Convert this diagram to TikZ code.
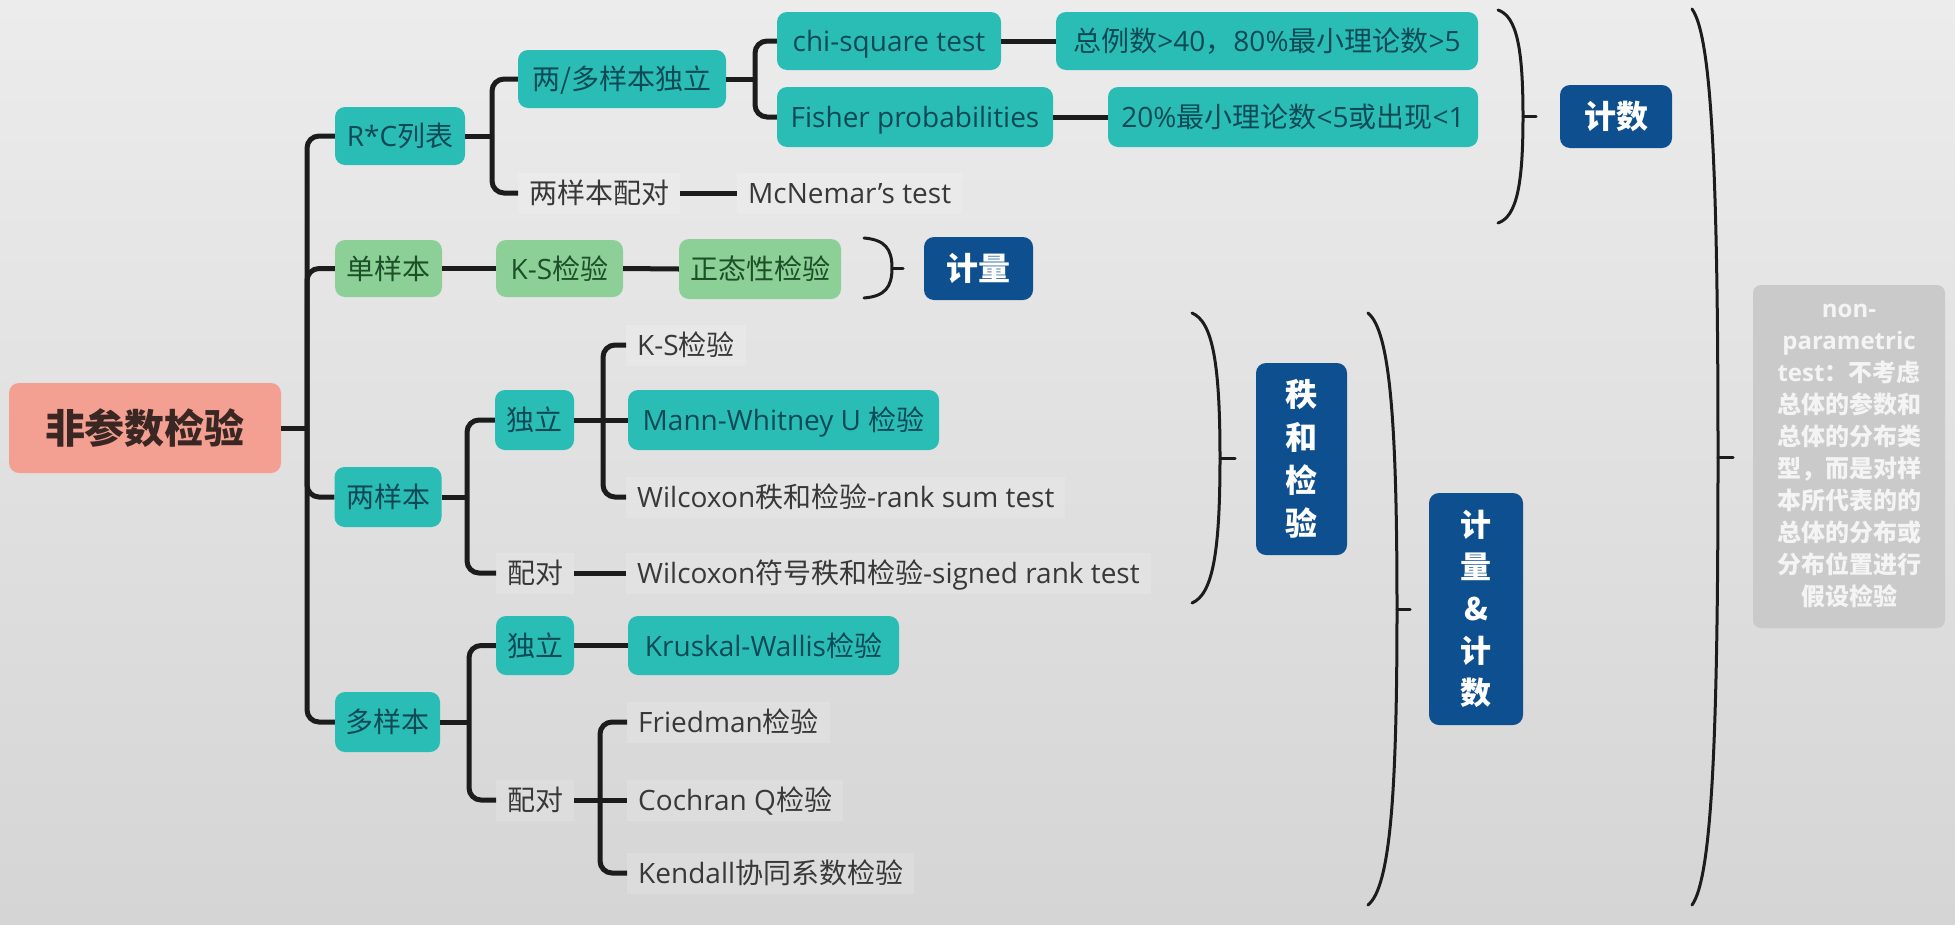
\documentclass[tikz,border=0pt]{standalone}
\usepackage{fontspec}
\setmainfont{Open Sans}
\newfontfamily\cjk{Noto Sans CJK SC}
\newcommand\zhc[1]{{\cjk #1}}
\definecolor{bgtop}{HTML}{ECECEC}
\definecolor{bgmid}{HTML}{F7F7F7}
\definecolor{bgbot}{HTML}{D5D5D5}
\definecolor{tealc}{HTML}{2ABDB6}
\definecolor{tealtxt}{HTML}{0E4A55}
\definecolor{greenc}{HTML}{8CCF97}
\definecolor{greentxt}{HTML}{1C5128}
\definecolor{bluec}{HTML}{0E4F8F}
\definecolor{salmonc}{HTML}{F3A092}
\definecolor{salmontxt}{HTML}{3A2723}
\definecolor{linec}{HTML}{1C1C1C}
\definecolor{plaintxt}{HTML}{383838}
\definecolor{notec}{HTML}{CACACA}
\definecolor{notetxt}{HTML}{F4F4F4}
\tikzset{
  nbox/.style={rounded corners=10pt, inner sep=0pt, align=center, font=\fontsize{28}{34}\selectfont},
  oneline/.style={text height=24pt, text depth=3pt},
  sz/.style 2 args={minimum width=#1pt, minimum height=#2pt},
  tealbox/.style={nbox, oneline, fill=tealc, text=tealtxt},
  greenbox/.style={nbox, oneline, fill=greenc, text=greentxt},
  bluebox/.style={nbox, fill=bluec, text=white, font=\fontsize{32}{43}\selectfont\bfseries},
  salmonbox/.style={nbox, text height=34pt, text depth=4pt, fill=salmonc, text=salmontxt, font=\fontsize{40}{48}\selectfont\bfseries},
  plain/.style={anchor=west, oneline, inner xsep=11pt, inner ysep=7pt, fill=white, fill opacity=0.15, text opacity=1, text=plaintxt, font=\fontsize{28}{34}\selectfont},
  notebox/.style={nbox, rounded corners=8pt, fill=notec, text=notetxt, font=\fontsize{24}{32}\selectfont\bfseries},
  conn/.style={line width=5pt, draw=linec, rounded corners=12pt},
  paren/.style={line width=3pt, draw=linec, line cap=round},
}
% #1 x0, #2 ytop, #3 ybot, #4 depth, #5 tick length
\newcommand\parenshape[5]{%
  \draw[paren] (#1,#2) .. controls ({#1+0.75*#4},{#2+0.03*(#3-#2)}) and ({#1+#4},{#2+0.18*(#3-#2)}) .. ({#1+#4},{(#2+#3)/2})
    .. controls ({#1+#4},{#3-0.18*(#3-#2)}) and ({#1+0.75*#4},{#3-0.03*(#3-#2)}) .. (#1,#3);
  \draw[paren] ({#1+#4},{(#2+#3)/2}) -- ++(#5,0);
}
\begin{document}
\begin{tikzpicture}[x=1pt,y=-1pt]
\useasboundingbox (0,0) rectangle (1955,924);
\fill[top color=bgtop, middle color=bgmid, bottom color=bgbot] (0,0) rectangle (1955,924);

% root
\node[salmonbox, sz={272}{90}] (root) at (145,428) {\zhc{非参数检验}};

% R*C branch
\node[tealbox, sz={130}{58}] (rc) at (400,136) {R*C\zhc{列表}};
\node[tealbox, sz={208}{58}] (indep2) at (622,79) {\zhc{两/多样本独立}};
\node[plain] (pair2) at (518,193) {\zhc{两样本配对}};
\node[plain] (mcn) at (737,193) {McNemar's test};
\node[tealbox, sz={224}{58}] (chisq) at (889,41) {chi-square test};
\node[tealbox, sz={276}{60}] (fisher) at (915,117) {Fisher probabilities};
\node[tealbox, sz={422}{58}] (crit1) at (1267,41) {\zhc{总例数}>40\zhc{，}80\%\zhc{最小理论数}>5};
\node[tealbox, sz={370}{60}] (crit2) at (1293,117) {20\%\zhc{最小理论数}<5\zhc{或出现}<1};
\node[bluebox, text height=28pt, text depth=4pt, sz={112}{63}] (jishu) at (1616,116.5) {\zhc{计数}};

% single sample
\node[greenbox, sz={107}{57}] (single) at (388.5,268.5) {\zhc{单样本}};
\node[greenbox, sz={127}{57}] (ks1) at (559.5,268.5) {K-S\zhc{检验}};
\node[greenbox, sz={162}{60}] (normal) at (760,269) {\zhc{正态性检验}};
\node[bluebox, text height=28pt, text depth=4pt, sz={109}{63}] (jiliang) at (978.5,268.5) {\zhc{计量}};

% two samples
\node[tealbox, sz={107}{60}] (two) at (388,497) {\zhc{两样本}};
\node[tealbox, sz={79}{60}] (ind2) at (534.5,420) {\zhc{独立}};
\node[plain] (pair2b) at (496,573) {\zhc{配对}};
\node[plain] (ks2) at (626,345) {K-S\zhc{检验}};
\node[tealbox, sz={311}{60}] (mann) at (783.5,420) {Mann-Whitney U \zhc{检验}};
\node[plain] (wrs) at (626,497) {Wilcoxon\zhc{秩和检验}-rank sum test};
\node[plain] (wsr) at (626,573) {Wilcoxon\zhc{符号秩和检验}-signed rank test};
\node[bluebox, sz={91}{192}] (zhihe) at (1301.5,459) {\zhc{秩}\\\zhc{和}\\\zhc{检}\\\zhc{验}};

% multi samples
\node[tealbox, sz={105}{60}] (multi) at (387.5,722) {\zhc{多样本}};
\node[tealbox, sz={78}{59}] (ind3) at (535,645.5) {\zhc{独立}};
\node[tealbox, sz={271}{59}] (kw) at (763.5,645.5) {Kruskal-Wallis\zhc{检验}};
\node[plain] (pair3) at (496,800) {\zhc{配对}};
\node[plain] (fried) at (627,722) {Friedman\zhc{检验}};
\node[plain] (coch) at (627,800) {Cochran Q\zhc{检验}};
\node[plain] (kend) at (627,873) {Kendall\zhc{协同系数检验}};

\node[bluebox, sz={94}{232}, font=\fontsize{31}{42}\selectfont\bfseries] (both) at (1476,609) {\zhc{计}\\\zhc{量}\\\zhc{\&}\\\zhc{计}\\\zhc{数}};

% note
\node[notebox, sz={192}{343}, text width=180pt] (note) at (1849,456.5)
 {non-\\parametric\\test\zhc{：不考虑}\\\zhc{总体的参数和}\\\zhc{总体的分布类}\\\zhc{型，而是对样}\\\zhc{本所代表的的}\\\zhc{总体的分布或}\\\zhc{分布位置进行}\\\zhc{假设检验}};

% branch points
\coordinate (b0) at (307,428);
\coordinate (b1) at (492,136);
\coordinate (b1b) at (755,79);
\coordinate (b2) at (467,497);
\coordinate (b3) at (603,420);
\coordinate (b4) at (469,722);
\coordinate (b5) at (600,800);

% connectors
\draw[conn] (root.east) -- (b0);
\draw[conn] (rc.west) -| (b0);
\draw[conn] (single.west) -| (b0);
\draw[conn] (two.west) -| (b0);
\draw[conn] (multi.west) -| (b0);

\draw[conn] (rc.east) -- (b1);
\draw[conn] (indep2.west) -| (b1);
\draw[conn] (pair2.west) -| (b1);
\draw[conn] (pair2.east) -- (mcn.west);
\draw[conn] (indep2.east) -- (b1b);
\draw[conn] (chisq.west) -| (b1b);
\draw[conn] (fisher.west) -| (b1b);
\draw[conn] (chisq.east) -- (crit1.west);
\draw[conn] (fisher.east) -- (crit2.west);

\draw[conn] (single.east) -- (ks1.west);
\draw[conn] (ks1.east) -- (normal.west);

\draw[conn] (two.east) -- (b2);
\draw[conn] (ind2.west) -| (b2);
\draw[conn] (pair2b.west) -| (b2);
\draw[conn] (ind2.east) -- (mann.west);
\draw[conn] (ks2.west) -| (b3);
\draw[conn] (wrs.west) -| (b3);
\draw[conn] (pair2b.east) -- (wsr.west);

\draw[conn] (multi.east) -- (b4);
\draw[conn] (ind3.west) -| (b4);
\draw[conn] (pair3.west) -| (b4);
\draw[conn] (ind3.east) -- (kw.west);
\draw[conn] (pair3.east) -- (coch.west);
\draw[conn] (fried.west) -| (b5);
\draw[conn] (kend.west) -| (b5);

% brackets
\parenshape{1498}{10}{223}{25}{13}
\parenshape{864}{238}{298}{28}{11}
\parenshape{1192}{313}{603}{28}{15}
\parenshape{1368}{313}{905}{29}{13}
\parenshape{1692}{9}{905}{26}{15}
\end{tikzpicture}
\end{document}
